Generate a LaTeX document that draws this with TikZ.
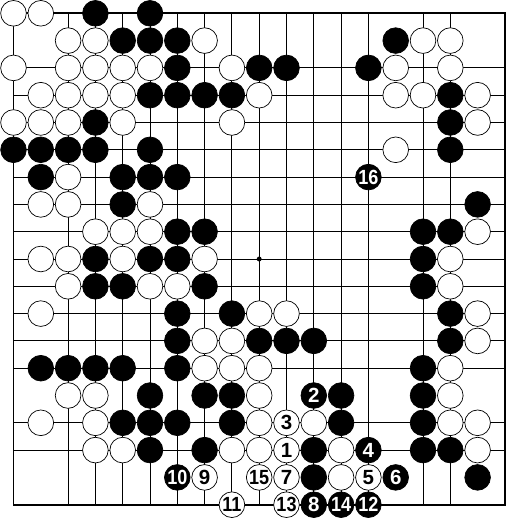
\documentclass[tikz,border=0pt]{standalone}
\usepackage{fontspec}
\setmainfont{Liberation Sans}
\newcommand{\twodig}[1]{\scalebox{0.88}[1]{#1}}

\begin{document}
\begin{tikzpicture}[x=8.19mm, y=-8.19mm,
  stone/.style={circle, draw=black, line width=0.6pt, inner sep=0pt, minimum size=7.7mm,
    font=\fontsize{17.5}{17.5}\selectfont\bfseries},
  bstone/.style={stone, fill=black, text=white},
  wstone/.style={stone, fill=white, text=black}]
\useasboundingbox (-0.4945,-0.487) rectangle (18.553,18.56);
\foreach \i in {0,2,3,4,5,6,7,8,9,10,11,12,13,15,16,18} {
 \draw[line width=0.8pt] (\i,0) -- (\i,18);
 \draw[line width=0.8pt] (0,\i) -- (18,\i);
}
\draw[line width=1.4pt] (0,0) rectangle (18,18);
\fill (9,9) circle (0.09);
\foreach \c/\r in {3/0,5/0, 4/1,5/1,6/1,14/1, 6/2,9/2,10/2,13/2, 5/3,6/3,7/3,8/3,16/3,
  3/4,16/4, 0/5,1/5,2/5,3/5,5/5,16/5, 1/6,4/6,5/6,6/6, 4/7,17/7, 6/8,7/8,15/8,16/8,
  3/9,5/9,6/9,15/9, 3/10,4/10,7/10,15/10, 6/11,8/11,16/11, 6/12,9/12,10/12,11/12,16/12,
  1/13,2/13,3/13,4/13,6/13,15/13, 5/14,7/14,8/14,12/14,15/14, 4/15,5/15,6/15,8/15,12/15,15/15,
  5/16,7/16,11/16,15/16,16/16, 11/17,17/17}
 \node[bstone] (b\c-\r) at (\c,\r) {};
\foreach \c/\r in {0/0,1/0, 2/1,3/1,7/1,15/1,16/1, 0/2,2/2,3/2,4/2,5/2,8/2,14/2,16/2,
  1/3,2/3,3/3,4/3,9/3,14/3,15/3,17/3, 0/4,1/4,2/4,4/4,8/4,17/4, 14/5, 2/6, 1/7,2/7,5/7,
  3/8,4/8,5/8,17/8, 1/9,2/9,4/9,7/9,16/9, 2/10,5/10,6/10,16/10, 1/11,9/11,10/11,17/11,
  7/12,8/12,17/12, 7/13,8/13,9/13,16/13, 2/14,3/14,9/14,16/14, 1/15,3/15,9/15,11/15,16/15,17/15,
  3/16,4/16,8/16,9/16,12/16,17/16, 12/17}
 \node[wstone] (w\c-\r) at (\c,\r) {};
\node[wstone] (m1) at (10,16) {1};
\node[bstone] (m2) at (11,14) {2};
\node[wstone] (m3) at (10,15) {3};
\node[bstone] (m4) at (13,16) {4};
\node[wstone] (m5) at (13,17) {5};
\node[bstone] (m6) at (14,17) {6};
\node[wstone] (m7) at (10,17) {7};
\node[bstone] (m8) at (11,18) {8};
\node[wstone] (m9) at (7,17) {9};
\node[bstone] (m10) at (6,17) {\twodig{10}};
\node[wstone] (m11) at (8,18) {\twodig{11}};
\node[bstone] (m12) at (13,18) {\twodig{12}};
\node[wstone] (m13) at (10,18) {\twodig{13}};
\node[bstone] (m14) at (12,18) {\twodig{14}};
\node[wstone] (m15) at (9,17) {\twodig{15}};
\node[bstone] (m16) at (13,6) {\twodig{16}};
\end{tikzpicture}
\end{document}
